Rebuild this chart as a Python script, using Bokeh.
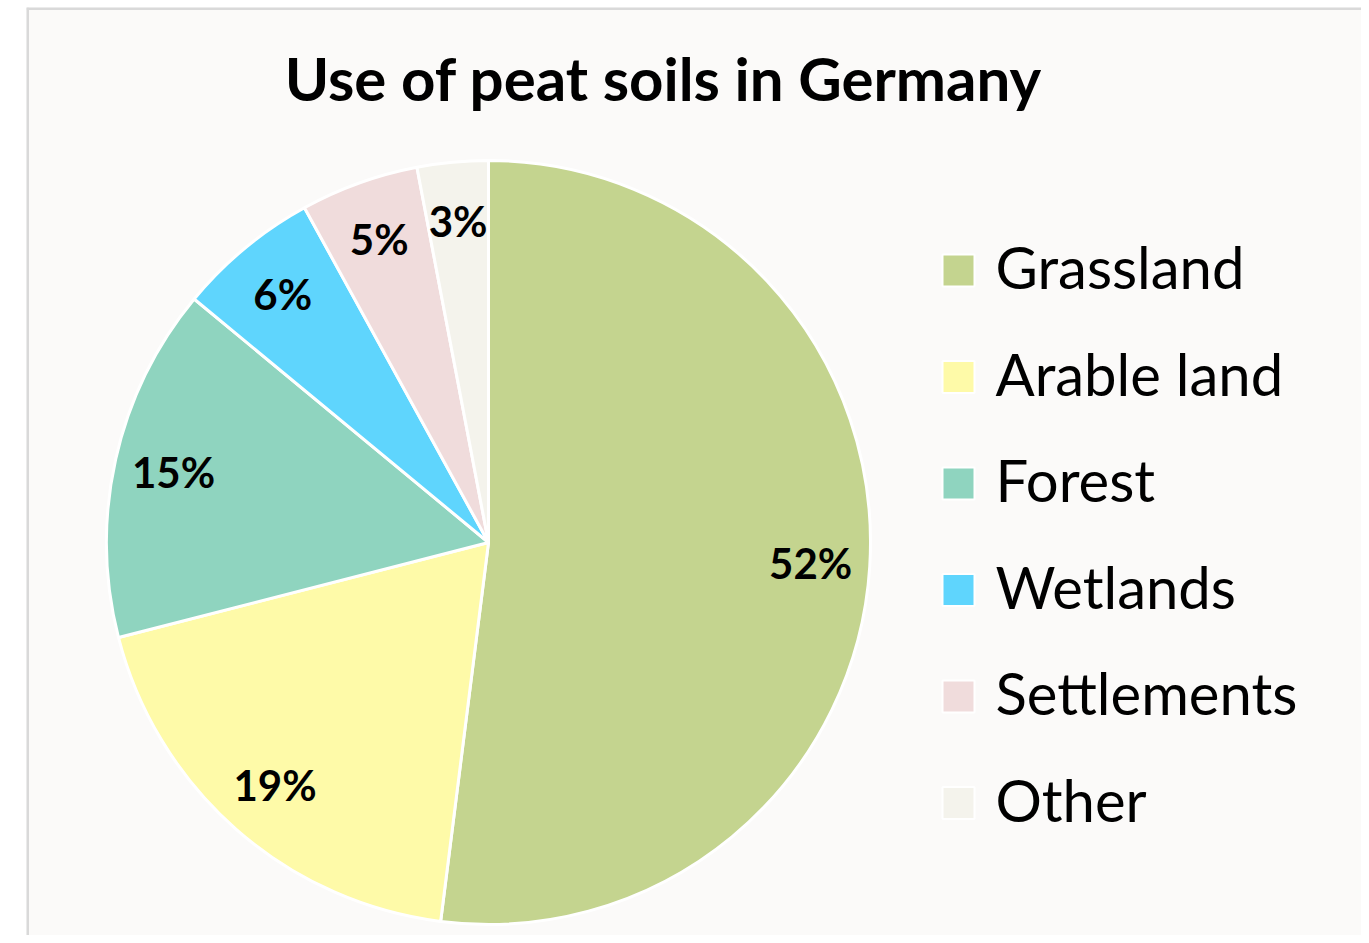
import math
from bokeh.plotting import figure
from bokeh.models import Range1d, ColumnDataSource
from bokeh.core.properties import value
from bokeh.embed import file_html
from bokeh.resources import INLINE

title_text = "Use of peat soils in Germany"
categories = ["Grassland", "Arable land", "Forest", "Wetlands", "Settlements", "Other"]
shares = [52, 19, 15, 6, 5, 3]
colors = ["#c4d48f", "#fefaa8", "#8fd4bf", "#5fd5fd", "#f0dcdc", "#f4f3ec"]

FONT = "Lato"
W, H = 1361, 935
LB, TB = 26, 7
FW, FH = W - LB, H - TB

p = figure(width=W, height=H, output_backend="svg", toolbar_location=None,
           x_range=Range1d(0, FW), y_range=Range1d(0, FH),
           min_border_left=LB, min_border_right=0, min_border_top=TB, min_border_bottom=0)
p.axis.visible = False
p.grid.visible = False
p.background_fill_color = "#fbfaf9"
p.border_fill_color = "white"
p.outline_line_color = None

# frame edges (left and top)
p.segment(x0=[0, 0], y0=[0, FH], x1=[0, FW], y1=[FH, FH], line_color="#d9d9d9", line_width=5)

cx, cy, R = 462, 393, 382
total = sum(shares)
starts, ends, lx, ly, labels = [], [], [], [], []
cum = 0.0
for s in shares:
    a0 = math.pi / 2 - 2 * math.pi * cum / total
    a1 = math.pi / 2 - 2 * math.pi * (cum + s) / total
    starts.append(a0)
    ends.append(a1)
    mid = (a0 + a1) / 2
    lx.append(cx + 0.845 * R * math.cos(mid))
    ly.append(cy + 0.845 * R * math.sin(mid))
    labels.append(f"{s}%")
    cum += s

src = ColumnDataSource(dict(start=starts, end=ends, color=colors))
p.wedge(x=cx, y=cy, radius=R, start_angle="start", end_angle="end", direction="clock",
        fill_color="color", line_color="white", line_width=3, source=src)

p.text(x=lx, y=ly, text=labels, text_font=value(FONT), text_font_style="bold",
       text_font_size="42px", text_color="black", text_align="center", text_baseline="middle")

p.text(x=[637], y=[858], text=[title_text], text_font=value(FONT), text_font_style="bold",
       text_font_size="60px", text_color="black", text_align="center", text_baseline="middle")

leg_top = 665
leg_step = 106.5
leg_y = [leg_top - i * leg_step for i in range(len(categories))]
p.scatter(x=[932] * len(categories), y=leg_y, marker="square", size=32,
          fill_color=colors, line_color="white", line_width=2)
p.text(x=[969] * len(categories), y=[v + 4 for v in leg_y], text=categories, text_font=value(FONT),
       text_font_size="58px", text_color="black", text_align="left", text_baseline="middle")

open("out.html", "w").write(file_html(p, INLINE))
